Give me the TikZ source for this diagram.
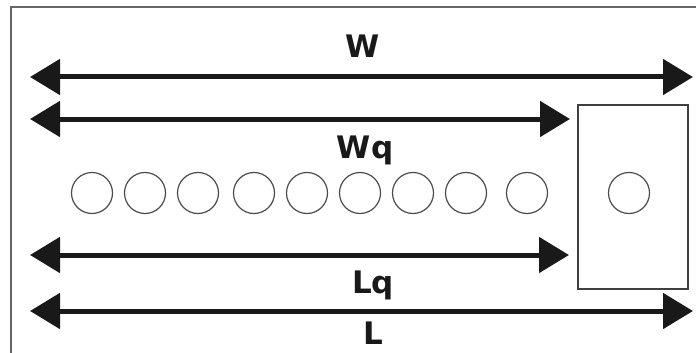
\documentclass[tikz,border=0pt]{standalone}
\usepackage{fontspec}
\setmainfont{DejaVu Sans}
\usetikzlibrary{arrows.meta}
\begin{document}
\begin{tikzpicture}[x=1pt,y=-1pt,
  dimarrow/.style={line width=5pt, black!90, {Triangle[length=30pt,width=35pt]}-{Triangle[length=30pt,width=35pt]}},
  lbl/.style={font=\fontsize{31}{36}\selectfont\bfseries, inner sep=0pt, text=black!90, anchor=base},
  ball/.style={circle, draw=black!70, line width=1.2pt, minimum size=41pt, inner sep=0pt},
  server/.style={draw=black!75, line width=1.2pt, minimum width=110pt, minimum height=184pt, inner sep=0pt}]
\useasboundingbox (0,0) rectangle (696,353);
\fill[white] (0,0) rectangle (696,353);
\draw[black!60, line width=2pt] (11,360) -- (11,7) -- (702,7);
% coordinates for arrow ends
\coordinate (wl) at (30,77);  \coordinate (wr) at (693,77);
\coordinate (wql) at (30,119); \coordinate (wqr) at (570,119);
\coordinate (lql) at (30,255); \coordinate (lqr) at (569,255);
\coordinate (ll) at (30,311);  \coordinate (lr) at (693,311);
\draw[dimarrow] (wl) -- (wr);
\draw[dimarrow] (wql) -- (wqr);
\draw[dimarrow] (lql) -- (lqr);
\draw[dimarrow] (ll) -- (lr);
\node[lbl] (tW) at (363,58) {W};
\node[lbl] (tWq) at (365,158) {Wq};
\node[lbl] (tLq) at (373,293) {Lq};
\node[lbl] (tL) at (373,344) {L};
\foreach \i/\xx in {1/92,2/145,3/198,4/254,5/307,6/360,7/413,8/466,9/527}{
  \node[ball] (q\i) at (\xx,193) {};
}
\node[server] (srv) at (633,197) {};
\node[ball] (s) at (629,193) {};
\end{tikzpicture}
\end{document}
